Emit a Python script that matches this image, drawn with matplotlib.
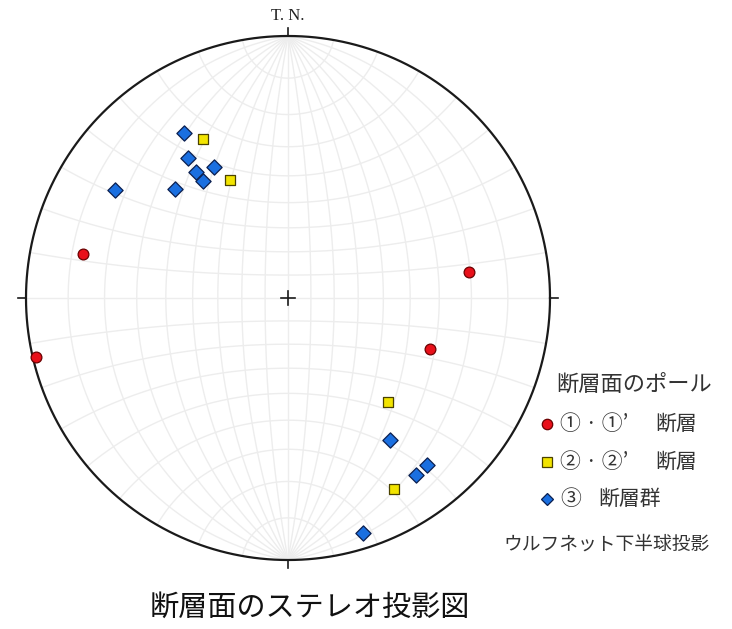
import numpy as np
import matplotlib
matplotlib.use("Agg")
import matplotlib.pyplot as plt
from matplotlib.lines import Line2D

plt.rcParams['font.family'] = ['Noto Sans CJK JP', 'DejaVu Sans']

# Pole positions in projected (Wulff net) coordinates, unit circle
fault1_x = [-0.782, -0.962, 0.691, 0.542]
fault1_y = [0.168, -0.225, 0.099, -0.195]

fault2_x = [-0.324, -0.221, 0.382, 0.405]
fault2_y = [0.607, 0.450, -0.397, -0.729]

fault3_x = [-0.397, -0.382, -0.282, -0.351, -0.324, -0.431, -0.660,
            0.389, 0.531, 0.489, 0.286]
fault3_y = [0.630, 0.534, 0.500, 0.481, 0.447, 0.416, 0.412,
            -0.542, -0.639, -0.676, -0.897]

legend_title = "断層面のポール"
legend_nums = ["① · ①’", "② · ②’", "③"]
legend_names = ["断層", "断層", "断層群"]
net_note = "ウルフネット下半球投影"
north_label = "T. N."
caption = "断層面のステレオ投影図"

W, H = 732, 629
fig = plt.figure(figsize=(W / 100, H / 100), dpi=100)
fig.patch.set_facecolor('white')

cx, cy, R = 288, 298, 262
ax = fig.add_axes([(cx - R) / W, (H - cy - R) / H, 2 * R / W, 2 * R / H])
ax.set_xlim(-1, 1)
ax.set_ylim(-1, 1)
ax.axis('off')

# Wulff net grid (10 degree)
grid_col = '#ededed'
phi = np.radians(np.linspace(-90, 90, 361))
for lam_d in range(-80, 90, 10):
    lam = np.radians(lam_d)
    X = np.cos(phi) * np.sin(lam)
    Y = np.sin(phi)
    Z = np.cos(phi) * np.cos(lam)
    ax.plot(X / (1 + Z), Y / (1 + Z), color=grid_col, lw=1.0, zorder=1)
lam = np.radians(np.linspace(-90, 90, 361))
for phi_d in range(-80, 90, 10):
    p = np.radians(phi_d)
    X = np.cos(p) * np.sin(lam)
    Y = np.sin(p) * np.ones_like(lam)
    Z = np.cos(p) * np.cos(lam)
    ax.plot(X / (1 + Z), Y / (1 + Z), color=grid_col, lw=1.0, zorder=1)

# Primitive circle
t = np.linspace(0, 2 * np.pi, 721)
ax.plot(np.cos(t), np.sin(t), color='#1a1a1a', lw=1.6, zorder=3, clip_on=False)

# Ticks at N, E, S, W and centre cross
tk = 0.03
ax.plot([0, 0], [1, 1 + tk], color='#1a1a1a', lw=1.2, clip_on=False)
ax.plot([0, 0], [-1, -1 - tk], color='#1a1a1a', lw=1.2, clip_on=False)
ax.plot([1, 1 + tk], [0, 0], color='#1a1a1a', lw=1.2, clip_on=False)
ax.plot([-1, -1 - tk], [0, 0], color='#1a1a1a', lw=1.2, clip_on=False)
c = 0.028
ax.plot([-c, c], [0, 0], color='#1a1a1a', lw=1.2)
ax.plot([0, 0], [-c, c], color='#1a1a1a', lw=1.2)

# Poles
ax.scatter(fault1_x, fault1_y, s=60, marker='o', facecolor='#e8101a',
           edgecolor='#6a0000', linewidth=0.9, zorder=5, clip_on=False)
ax.scatter(fault2_x, fault2_y, s=55, marker='s', facecolor='#f2e400',
           edgecolor='#4a4200', linewidth=0.9, zorder=5, clip_on=False)
ax.scatter(fault3_x, fault3_y, s=60, marker='D', facecolor='#1a6fe0',
           edgecolor='#0a1f50', linewidth=0.9, zorder=5, clip_on=False)

# North label
fig.text(cx / W, 1 - 16 / H, north_label, ha='center', va='center',
         fontsize=12, family=['Liberation Serif', 'DejaVu Serif'], color='#222222')

# Legend
def fx(px):
    return px / W

def fy(py):
    return 1 - py / H

fig.text(fx(556), fy(384), legend_title, ha='left', va='center',
         fontsize=16, color='#333333')
styles = [('o', '#e8101a', '#6a0000', 7.5),
          ('s', '#f2e400', '#4a4200', 7),
          ('D', '#1a6fe0', '#0a1f50', 6.5)]
rows = [424, 462, 499]
name_x = [655, 655, 598]
for (m, fc, ec, ms), num, name, nx, ry in zip(styles, legend_nums,
                                               legend_names, name_x, rows):
    fig.add_artist(Line2D([fx(547)], [fy(ry)], marker=m, markersize=ms,
                          markerfacecolor=fc, markeredgecolor=ec,
                          markeredgewidth=0.9, linestyle='none',
                          transform=fig.transFigure))
    fig.text(fx(560), fy(ry), num, ha='left', va='center', fontsize=15,
             color='#333333')
    fig.text(fx(nx), fy(ry), name, ha='left', va='center', fontsize=15,
             color='#333333')
fig.text(fx(710), fy(544), net_note, ha='right', va='center', fontsize=13.5,
         color='#333333')

# Caption
fig.text(fx(310), fy(608), caption, ha='center', va='center', fontsize=21,
         color='#111111')

fig.savefig('out.png', dpi=100, facecolor='white')
